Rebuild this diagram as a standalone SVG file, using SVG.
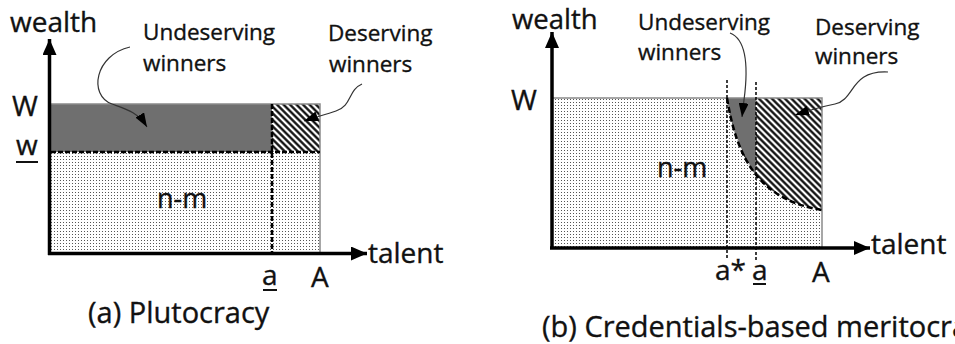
<svg xmlns="http://www.w3.org/2000/svg" width="955" height="344" viewBox="0 0 955 344">
<style>
text{font-family:"Open Sans","Liberation Sans",sans-serif;fill:#111;stroke:#111;stroke-width:0.35}
.big{font-size:28px}
.sm{font-size:22.5px}
.axis{stroke:#000;stroke-width:3.5;fill:none}
.edge{stroke:#8a8a8a;stroke-width:1.5;fill:none}
.dash{stroke:#000;stroke-width:2.5;stroke-dasharray:5 2;fill:none}
.thin{stroke:#000;stroke-width:1.5;stroke-dasharray:3 2;fill:none}
.curve{stroke:#000;stroke-width:2.5;stroke-dasharray:6 3;fill:none}
.ann{stroke:#333;stroke-width:1.2;fill:none}
.ul{stroke:#111;stroke-width:2}
</style>
<defs>
<pattern id="dots" width="3" height="3" patternUnits="userSpaceOnUse"><rect width="3" height="3" fill="#fff"/><rect width="1" height="1" fill="#555"/></pattern>
<pattern id="hatch" width="4.6" height="4.6" patternUnits="userSpaceOnUse" patternTransform="rotate(-45)"><rect width="4.6" height="4.6" fill="#fff"/><line x1="2.3" y1="0" x2="2.3" y2="4.6" stroke="#000" stroke-width="2.2"/></pattern>
<marker id="ax" viewBox="0 0 16 14" refX="16" refY="7" markerWidth="16" markerHeight="14" markerUnits="userSpaceOnUse" orient="auto"><path d="M0,0L16,7L0,14z" fill="#000"/></marker>
<marker id="ah" viewBox="0 0 14 10" refX="14" refY="5" markerWidth="14" markerHeight="10" markerUnits="userSpaceOnUse" orient="auto"><path d="M0,0L14,5L0,10z" fill="#000"/></marker>
</defs>

<g id="panel-a">
  <g id="a-regions">
    <rect x="51" y="152" width="269" height="100" fill="url(#dots)"/>
    <rect x="51" y="104" width="221" height="48" fill="#6f6f6f"/>
    <rect x="272" y="104" width="48" height="48" fill="url(#hatch)"/>
    <path class="edge" d="M51,104H320V252"/>
    <path class="dash" d="M51,152H320"/>
    <path class="dash" d="M272,104V252"/>
  </g>
  <g id="a-axes">
    <path class="axis" d="M49.5,255V39" marker-end="url(#ax)"/>
    <path class="axis" d="M48,253.5H367" marker-end="url(#ax)"/>
  </g>
  <g id="a-labels">
    <text class="big" x="10" y="32">wealth</text>
    <text class="sm" x="143" y="40">Undeserving</text>
    <text class="sm" x="143" y="71">winners</text>
    <text class="sm" x="328" y="41">Deserving</text>
    <text class="sm" x="329" y="72">winners</text>
    <text class="big" x="12" y="116">W</text>
    <text class="big" x="16" y="155">w</text>
    <line class="ul" x1="16" y1="162" x2="38" y2="162"/>
    <text class="big" x="157" y="208" style="font-size:27px">n-m</text>
    <text class="big" x="262" y="285">a</text>
    <line class="ul" x1="263" y1="290" x2="277" y2="290"/>
    <text class="big" x="311" y="287">A</text>
    <text class="big" x="368" y="263">talent</text>
    <text class="big" x="88" y="323" style="font-size:29px">(a) Plutocracy</text>
  </g>
</g>

<g id="panel-b">
  <g id="b-regions">
    <rect x="553" y="98" width="269" height="149" fill="url(#dots)"/>
    <path d="M727,98C737,160 760,200 822,210V98Z" fill="url(#hatch)"/>
    <path d="M727,98C731,123 738,146 756,176V98Z" fill="#6f6f6f"/>
    <path class="edge" d="M553,98H822V247"/>
    <path class="thin" d="M727,80V258"/>
    <path class="thin" d="M756,82V260"/>
    <path class="curve" d="M727,98C737,160 760,200 822,210"/>
  </g>
  <g id="b-axes">
    <path class="axis" d="M552,249V32" marker-end="url(#ax)"/>
    <path class="axis" d="M550,248H870" marker-end="url(#ax)"/>
  </g>
  <g id="b-labels">
    <text class="big" x="512" y="29" style="font-size:27.5px">wealth</text>
    <text class="sm" x="638" y="30">Undeserving</text>
    <text class="sm" x="638" y="60">winners</text>
    <text class="sm" x="815" y="35">Deserving</text>
    <text class="sm" x="815" y="64">winners</text>
    <text class="big" x="511" y="110">W</text>
    <text class="big" x="657" y="177" style="font-size:27px">n-m</text>
    <text class="big" x="715" y="280">a*</text>
    <text class="big" x="752" y="280">a</text>
    <line class="ul" x1="753" y1="284" x2="766" y2="284"/>
    <text class="big" x="812" y="282">A</text>
    <text class="big" x="871" y="254">talent</text>
    <text class="big" x="542" y="337" style="font-size:29px">(b) Credentials-based meritocracy</text>
  </g>
</g>

<g id="connectors">
  <path class="ann" d="M130,47C95,55 88,95 112,104C126,109 138,112 147,127" marker-end="url(#ah)"/>
  <path class="ann" d="M362,84C348,90 352,106 336,111C325,115 315,117 304,121" marker-end="url(#ah)"/>
  <path class="ann" d="M730,33C748,40 748,70 744,100L742,117" marker-end="url(#ah)"/>
  <path class="ann" d="M888,72C850,70 855,100 835,104C820,107 810,110 795,115" marker-end="url(#ah)"/>
</g>
</svg>
